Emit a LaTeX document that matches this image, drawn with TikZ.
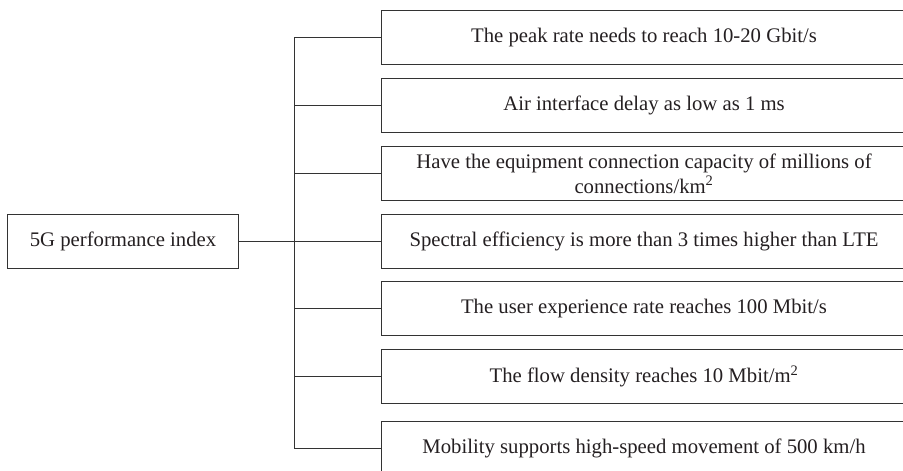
\documentclass[tikz,border=0pt]{standalone}
\usepackage{fontspec}
\setmainfont{Liberation Serif}
\usepackage{tikz}
\definecolor{MyDarkGrey}{rgb}{0.2,0.2,0.2}
\definecolor{MyText}{rgb}{0.14,0.12,0.13}
\tikzset{
  indexbox/.style={draw=MyDarkGrey, line width=0.9bp, minimum width=525bp, minimum height=54bp,
    inner sep=0pt, text=MyText, align=center, font=\fontsize{20.8}{25}\selectfont},
  rootbox/.style={draw=MyDarkGrey, line width=0.9bp, minimum width=231.4bp, minimum height=54bp,
    inner sep=0pt, text=MyText, font=\fontsize{20.8}{25}\selectfont},
  branch/.style={draw=MyDarkGrey, line width=0.9bp}
}

\begin{document}
\begin{tikzpicture}[x=1bp, y=-1bp]
        \useasboundingbox (0,0) rectangle (903,471);
        \clip (0,0) rectangle (903,471);
        \node[rootbox] (root) at (123,241.3) {5G performance index};
        \node[indexbox] (peak) at (644,37.9) {The peak rate needs to reach 10-20 Gbit/s};
        \node[indexbox] (delay) at (644,105.9) {Air interface delay as low as 1 ms};
        \node[indexbox] (conn) at (644,173.5) {Have the equipment connection capacity of millions of\\connections/km\textsuperscript{2}};
        \node[indexbox] (spectral) at (644,241.3) {Spectral efficiency is more than 3 times higher than LTE};
        \node[indexbox] (user) at (644,308.9) {The user experience rate reaches 100 Mbit/s};
        \node[indexbox] (flow) at (644,376.5) {The flow density reaches 10 Mbit/m\textsuperscript{2}};
        \node[indexbox] (mobility) at (644,448.3) {Mobility supports high-speed movement of 500 km/h};
        \coordinate (trunk) at (294,241.3);
        \draw [branch] (root.east) -- (spectral.west);
        \draw [branch] (peak.west -| trunk) -- (mobility.west -| trunk);
        \draw [branch] (peak.west) -- (peak.west -| trunk);
        \draw [branch] (delay.west) -- (delay.west -| trunk);
        \draw [branch] (conn.west) -- (conn.west -| trunk);
        \draw [branch] (user.west) -- (user.west -| trunk);
        \draw [branch] (flow.west) -- (flow.west -| trunk);
        \draw [branch] (mobility.west) -- (mobility.west -| trunk);
      \end{tikzpicture}
\end{document}
